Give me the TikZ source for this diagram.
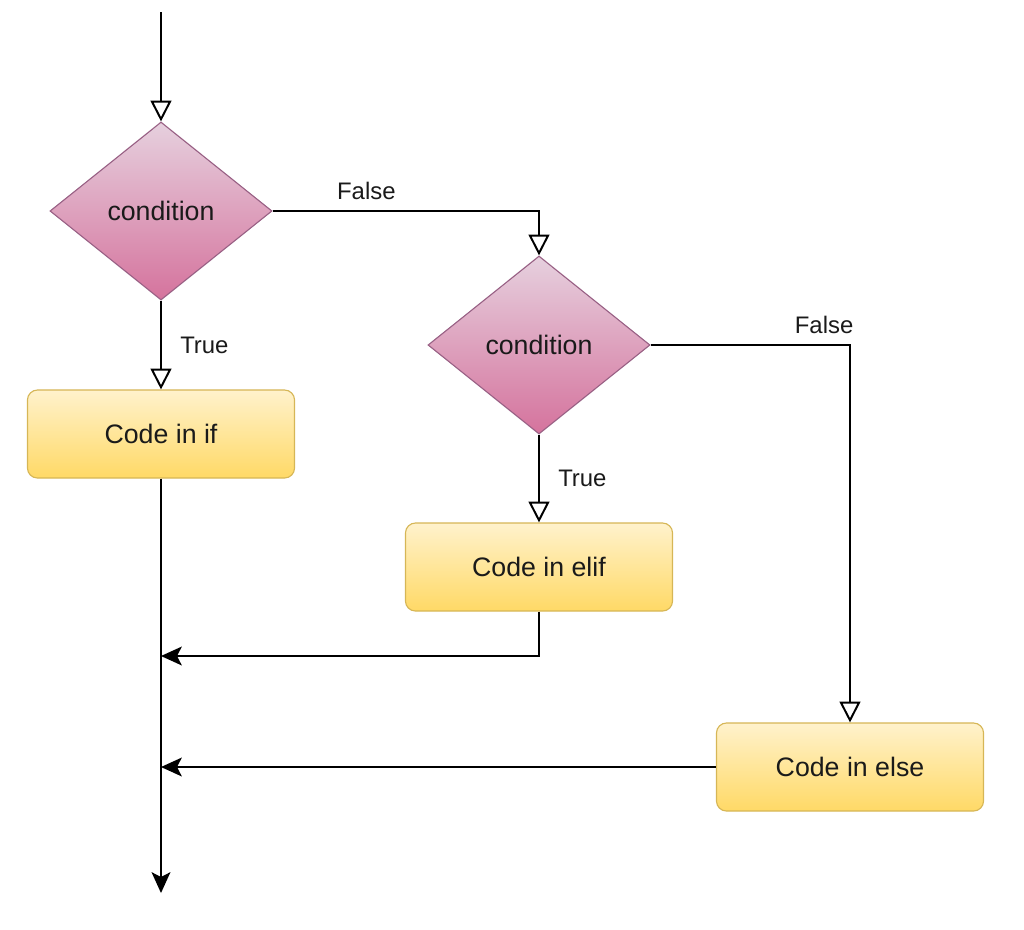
\documentclass[tikz,border=0pt]{standalone}
\usepackage{fontspec}
\setmainfont{Liberation Sans}
\usetikzlibrary{arrows.meta, shapes.geometric}
\definecolor{PinkTop} {HTML}{E6D0DE}
\definecolor{PinkBot} {HTML}{D5739D}
\definecolor{PinkLn}  {HTML}{996185}
\definecolor{GoldTop} {HTML}{FFF2CC}
\definecolor{GoldBot} {HTML}{FFD966}
\definecolor{GoldLn}  {HTML}{D6B656}
\definecolor{Ink}     {HTML}{1A1A1A}
\tikzset{
  cond/.style={
    diamond, draw=PinkLn, top color=PinkTop, bottom color=PinkBot,
    text=Ink, font=\fontsize{19}{22}\selectfont,
    inner sep=0pt, minimum width=5.55cm, minimum height=4.45cm,
    line width=0.8pt,
  },
  codebox/.style={
    rectangle, rounded corners=0.25cm,
    draw=GoldLn, top color=GoldTop, bottom color=GoldBot,
    text=Ink, font=\fontsize{19}{22}\selectfont,
    inner sep=0pt, minimum width=6.675cm, minimum height=2.2cm,
    line width=0.8pt,
  },
  flow/.style={
    -{Triangle[open, fill=white, length=0.52cm, width=0.52cm]},
    line width=1.4pt, color=black,
  },
  back/.style={
    -{Stealth[length=0.52cm, width=0.47cm, inset=0.12cm]},
    line width=1.4pt, color=black,
  },
  lbl/.style={
    font=\fontsize{17}{20}\selectfont, text=Ink, inner sep=1pt,
  },
}
\begin{document}
\begin{tikzpicture}[x=0.025cm,y=-0.025cm]
    \useasboundingbox (0,0) rectangle (1024,929);
    \coordinate (start) at (161,12);
    \node[cond]    (c1) at (161,211) {condition};
    \node[cond]    (c2) at (539,345) {condition};
    \node[codebox] (bif)   at (161,434) {Code in if};
    \node[codebox] (belif) at (539,567) {Code in elif};
    \node[codebox] (belse) at (850,767) {Code in else};
    \coordinate (join1) at (161,656);
    \coordinate (join2) at (161,767);
    \coordinate (stop)  at (161,893);
    \draw[flow] (start)--(c1.north);
    \draw[flow] (c1.south)--(bif.north) node[lbl, pos=0.5, right=12pt] {True};
    \draw[flow] (c1.east)-|(c2.north) node[lbl, pos=0.176, above=6pt] {False};
    \draw[flow] (c2.south)--(belif.north) node[lbl, pos=0.5, right=12pt] {True};
    \draw[flow] (c2.east)-|(belse.north) node[lbl, pos=0.435, above=6pt] {False};
    \draw[back] (bif.south)--(stop);
    \draw[back] (belif.south)|-(join1);
    \draw[back] (belse.west)--(join2);
  \end{tikzpicture}
\end{document}
